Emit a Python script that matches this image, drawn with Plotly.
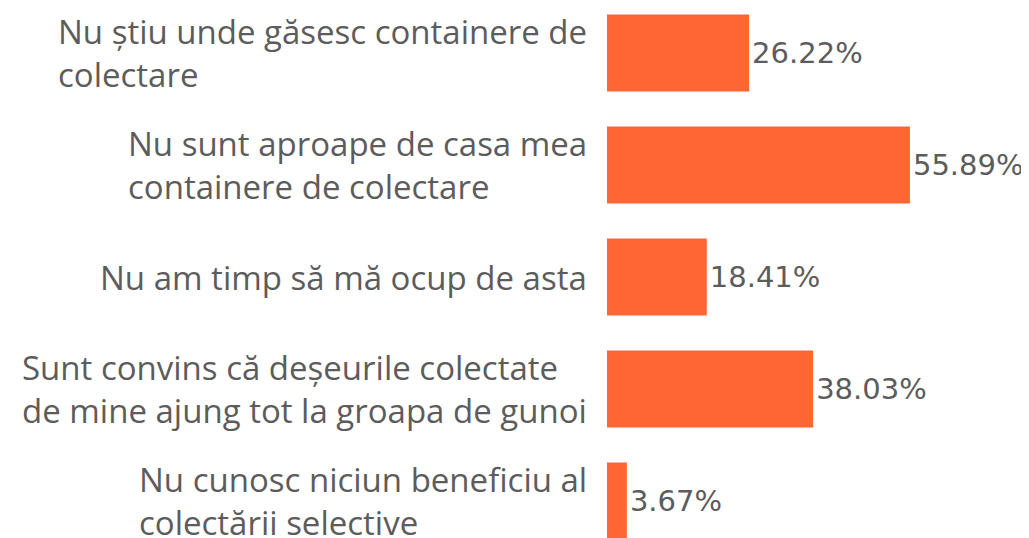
import plotly.graph_objects as go

categories = [
    "Nu știu unde găsesc containere de<br>colectare",
    "Nu sunt aproape de casa mea<br>containere de colectare",
    "Nu am timp să mă ocup de asta",
    "Sunt convins că deșeurile colectate<br>de mine ajung tot la groapa de gunoi",
    "Nu cunosc niciun beneficiu al<br>colectării selective",
]
values = [26.22, 55.89, 18.41, 38.03, 3.67]

BAR = "#FF6633"
TXT = "#5c5c5c"

fig = go.Figure(go.Bar(
    y=categories, x=values, orientation="h",
    marker=dict(color=BAR, line=dict(width=0)),
    text=[f"{v:.2f}%" for v in values],
    textposition="outside",
    textfont=dict(family="DejaVu Sans", size=29, color=TXT),
    cliponaxis=False,
))

for c in categories:
    fig.add_annotation(
        x=0, y=c, xref="x", yref="y", text=c, showarrow=False,
        xanchor="right", yanchor="middle", align="left", xshift=-18,
        font=dict(family="Open Sans", size=33, color=TXT),
    )

fig.update_layout(
    width=1021, height=530,
    margin=dict(l=599, r=0, t=0, b=0),
    paper_bgcolor="white", plot_bgcolor="white",
    bargap=0.3125, showlegend=False,
    xaxis=dict(range=[0, 77.86], visible=False, fixedrange=True),
    yaxis=dict(range=[4.33, -0.402], showticklabels=False, showgrid=False,
               zeroline=False, showline=False, ticks="", automargin=False),
)

fig.write_html("out.html")
